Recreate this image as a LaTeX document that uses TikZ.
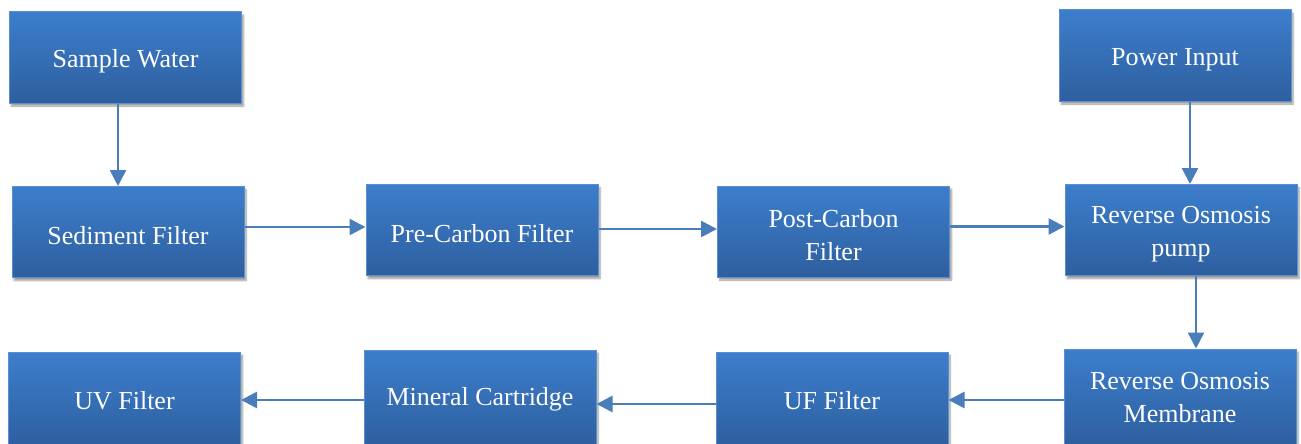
\documentclass[tikz,border=0pt]{standalone}
\usepackage{fontspec}
\setmainfont{Liberation Serif}
\usetikzlibrary{shadows.blur,arrows.meta}
\definecolor{boxtop}{HTML}{3C7ECC}
\definecolor{boxbot}{HTML}{2E5F9F}
\definecolor{boxline}{HTML}{5B8FD0}
\definecolor{arr}{HTML}{4A7EBB}
\tikzset{
  blk/.style={draw=boxline, line width=1pt, top color=boxtop, bottom color=boxbot,
    minimum width=232pt, minimum height=91pt, inner sep=0pt,
    blur shadow={shadow xshift=2pt, shadow yshift=-3pt, shadow blur steps=6, shadow opacity=40}},
  txt/.style={text=white, font=\fontsize{26}{33}\selectfont, align=center, inner sep=0pt, yshift=-4pt},
  conn/.style={draw=arr, line width=2.6pt, -{Triangle[length=16pt,width=16pt]}}
}
\begin{document}
\begin{tikzpicture}[x=1pt,y=-1pt]
\useasboundingbox (0,0) rectangle (1301,444);
\node[blk, label={[txt]center:Sample Water}] (sw)  at (125.5,57.5) {};
\node[blk, label={[txt]center:Sediment Filter}] (sed) at (128,232) {};
\node[blk, label={[txt]center:Pre-Carbon Filter}] (pre) at (482,230) {};
\node[blk, label={[txt]center:{Post-Carbon\\Filter}}] (post) at (833.5,231.5) {};
\node[blk, label={[txt]center:Power Input}] (pow) at (1175,55.5) {};
\node[blk, label={[txt]center:{Reverse Osmosis\\pump}}] (rop) at (1181,230) {};
\node[blk, minimum height=96pt, label={[txt,yshift=3pt]center:{Reverse Osmosis\\Membrane}}] (rom) at (1180,397) {};
\node[blk, minimum height=96pt, label={[txt,yshift=3pt]center:UF Filter}] (uf) at (832,400) {};
\node[blk, minimum height=96pt, label={[txt,yshift=3pt]center:Mineral Cartridge}] (min) at (480,398) {};
\node[blk, minimum height=96pt, label={[txt,yshift=3pt]center:UV Filter}] (uv) at (124.5,400) {};

\draw[conn] ([xshift=-7.5pt]sw.south) -- ([xshift=-7.5pt]sw.south |- sed.north);
\draw[conn] ([yshift=5pt]sed.east) -- ([yshift=5pt]sed.east -| pre.west);
\draw[conn] ([yshift=1pt]pre.east) -- ([yshift=1pt]pre.east -| post.west);
\draw[conn] ([yshift=5pt]post.east) -- ([yshift=5pt]post.east -| rop.west);
\draw[conn] ([xshift=15pt]pow.south) -- ([xshift=15pt]pow.south |- rop.north);
\draw[conn] ([xshift=15pt]rop.south) -- ([xshift=15pt]rop.south |- rom.north);
\draw[conn] ([yshift=-3pt]rom.west) -- ([yshift=-3pt]rom.west -| uf.east);
\draw[conn] ([yshift=-4pt]uf.west) -- ([yshift=-4pt]uf.west -| min.east);
\draw[conn] ([yshift=-2pt]min.west) -- ([yshift=-2pt]min.west -| uv.east);
\end{tikzpicture}
\end{document}
